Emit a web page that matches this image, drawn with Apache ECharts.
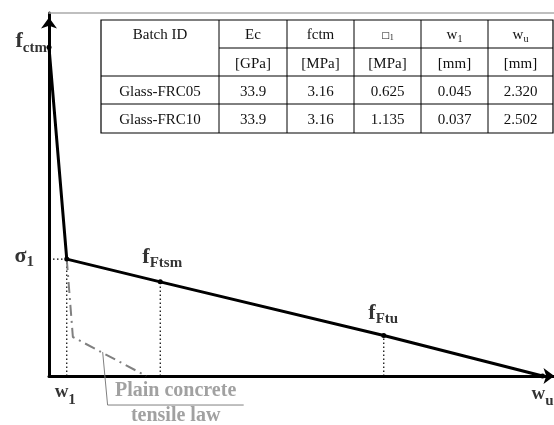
<!DOCTYPE html>
<html>
<head>
<meta charset="utf-8">
<script src="https://cdn.jsdelivr.net/npm/echarts@6/dist/echarts.min.js"></script>
<style>html,body{margin:0;padding:0;background:#fff;}#c{width:554px;height:425px;}</style>
</head>
<body>
<div id="c"></div>
<script>
// ---- schematic values (crack opening w, stress) ----
const fctm = 3.16;          // peak tensile strength on the y axis
const sigma1 = 1.124;       // stress at end of steep branch
const w1 = 0.09;            // crack opening at sigma1
const wFtsm = 0.564;        // crack opening of fFtsm
const fFtsm = 0.905;
const wFtu = 1.697;         // crack opening of fFtu
const fFtu = 0.39;
const wu = 2.502;           // ultimate crack opening
const plainW = [0.09, 0.121, 0.493];
const plainS = [1.124, 0.375, 0];
const leaderW = [0.272, 0.297, 0.987];
const leaderS = [0.23, -0.279, -0.279];
const noteAt = [0.642, -0.267];

// ---- table values ----
const tableHead1 = ['{n|Batch ID}', '{n|Ec}', '{n|fctm}', '{g|\u25A1}{gs|1}', '{n|w}{s|1}', '{n|w}{s|u}'];
const tableHead2 = ['', '[GPa]', '[MPa]', '[MPa]', '[mm]', '[mm]'];
const batchIds = ['Glass-FRC05', 'Glass-FRC10'];
const tEc = ['33.9', '33.9'];
const tFctm = ['3.16', '3.16'];
const tSigma1 = ['0.625', '1.135'];
const tW1 = ['0.045', '0.037'];
const tWu = ['2.320', '2.502'];

const serif = 'Liberation Serif';
const chart = echarts.init(document.getElementById('c'), null, {renderer: 'canvas'});

const mainRich = {
  m: {fontSize: 22, fontWeight: 'bold', fontFamily: serif, color: '#000', verticalAlign: 'top', lineHeight: 26},
  w: {fontSize: 19, fontWeight: 'bold', fontFamily: serif, color: '#000', verticalAlign: 'top', lineHeight: 26},
  s: {fontSize: 15, fontWeight: 'bold', fontFamily: serif, color: '#000', verticalAlign: 'top', lineHeight: 26, padding: [10, 0, 0, 0]}
};

function lbl(pos, dist, off) {
  return {show: true, position: pos, distance: dist, offset: off, rich: mainRich};
}

// table graphic
const colX = [101, 219, 287, 354, 421, 488, 553];
const rowY = [20, 48, 76, 104, 133];
const tg = [];
tg.push({type: 'rect', shape: {x: colX[0], y: rowY[0], width: colX[6] - colX[0], height: rowY[4] - rowY[0]},
  style: {fill: '#fff', stroke: '#000', lineWidth: 1.2}, z: 10});
tg.push({type: 'line', shape: {x1: colX[1], y1: rowY[1], x2: colX[6], y2: rowY[1]}, style: {stroke: '#000', lineWidth: 1}, z: 11});
[2, 3].forEach(r => tg.push({type: 'line', shape: {x1: colX[0], y1: rowY[r], x2: colX[6], y2: rowY[r]}, style: {stroke: '#000', lineWidth: 1}, z: 11}));
for (let c = 1; c < 6; c++) tg.push({type: 'line', shape: {x1: colX[c], y1: rowY[0], x2: colX[c], y2: rowY[4]}, style: {stroke: '#000', lineWidth: 1}, z: 11});
const tRich = {
  n: {fontSize: 15, fontFamily: serif, color: '#111', verticalAlign: 'top', lineHeight: 16},
  s: {fontSize: 10, fontFamily: serif, color: '#111', verticalAlign: 'top', lineHeight: 16, padding: [6, 0, 0, 0]},
  g: {fontSize: 9, fontFamily: 'DejaVu Sans', color: '#aaa', verticalAlign: 'top', lineHeight: 16, padding: [3, 0, 0, 0]},
  gs: {fontSize: 8, fontFamily: serif, color: '#999', verticalAlign: 'top', lineHeight: 16, padding: [6, 0, 0, 0]}
};
const rows = [
  tableHead1, tableHead2,
  [batchIds[0], tEc[0], tFctm[0], tSigma1[0], tW1[0], tWu[0]],
  [batchIds[1], tEc[1], tFctm[1], tSigma1[1], tW1[1], tWu[1]]
];
rows.forEach((row, r) => {
  row.forEach((txt, c) => {
    if (!txt) return;
    tg.push({type: 'text', x: (colX[c] + colX[c + 1]) / 2, y: (rowY[r] + rowY[r + 1]) / 2 + 2, z: 12,
      style: {text: txt, fontSize: 15, fontFamily: serif, fill: '#111', align: 'center', verticalAlign: 'middle',
        textAlign: 'center', textVerticalAlign: 'middle', rich: tRich}});
  });
});

const option = {
  animation: false,
  backgroundColor: '#fff',
  grid: {left: 49, right: -3.5, top: 13, bottom: 49},
  xAxis: [{
    type: 'value', min: 0, max: 2.56,
    axisLine: {show: true, onZero: false, symbol: ['none', 'arrow'], symbolSize: [12, 11], symbolOffset: [0, 0.5], lineStyle: {color: '#000', width: 3}},
    axisTick: {show: false}, axisLabel: {show: false}, splitLine: {show: false}
  }, {
    type: 'value', min: 0, max: 2.56, position: 'top',
    axisLine: {show: true, onZero: false, lineStyle: {color: '#aaa', width: 1.5}},
    axisTick: {show: false}, axisLabel: {show: false}, splitLine: {show: false}
  }],
  yAxis: {
    type: 'value', min: 0, max: 3.49,
    axisLine: {show: true, onZero: false, symbol: ['none', 'arrow'], symbolSize: [12, 11], symbolOffset: [0, -4.5], lineStyle: {color: '#000', width: 3}},
    axisTick: {show: false}, axisLabel: {show: false}, splitLine: {show: false}
  },
  series: [
    {type: 'line', name: 'guide-h', data: [[0, sigma1], [w1, sigma1]], symbol: 'none', lineStyle: {color: '#000', width: 1.2, type: [1.5, 2.5]}, z: 3},
    {type: 'line', name: 'guide-w1', data: [[w1, 0], [w1, sigma1]], symbol: 'none', lineStyle: {color: '#000', width: 1.2, type: [1.5, 2.5]}, z: 3},
    {type: 'line', name: 'guide-ftsm', data: [[wFtsm, 0], [wFtsm, fFtsm]], symbol: 'none', lineStyle: {color: '#000', width: 1.2, type: [1.5, 2.5]}, z: 3},
    {type: 'line', name: 'guide-ftu', data: [[wFtu, 0], [wFtu, fFtu]], symbol: 'none', lineStyle: {color: '#000', width: 1.2, type: [1.5, 2.5]}, z: 3},
    {type: 'line', name: 'plain', data: plainW.map((w, i) => [w, plainS[i]]), symbol: 'none',
      lineStyle: {color: '#808080', width: 2, type: [11, 5, 2, 5]}, z: 4},
    {type: 'line', name: 'leader', data: leaderW.map((w, i) => [w, leaderS[i]]), symbol: 'none', clip: false,
      lineStyle: {color: '#808080', width: 1}, z: 4},
    {type: 'line', name: 'frc', data: [[0, fctm], [w1, sigma1], [wFtsm, fFtsm], [wFtu, fFtu], [wu, 0]],
      symbol: 'circle', symbolSize: 5, itemStyle: {color: '#000'}, lineStyle: {color: '#000', width: 3}, z: 6},
    {type: 'scatter', name: 'labels', symbolSize: 0, clip: false, z: 8,
      data: [
        {value: [0, fctm], label: lbl('left', 1, [-1, -3.7])},
        {value: [0, sigma1], label: lbl('left', 15, [0, -1])},
        {value: [w1, 0], label: lbl('bottom', 7, [-1.5, 0])},
        {value: [wu, 0], label: lbl('bottom', 8.1, [0, 0])},
        {value: [wFtsm, fFtsm], label: lbl('top', 0, [2, -10])},
        {value: [wFtu, fFtu], label: lbl('top', 0, [-0.5, -7.5])}
      ].map((d, i) => {
        const texts = ['{m|f}{s|ctm}', '{m|\u03C3}{s|1}', '{w|w}{s|1}', '{w|w}{s|u}', '{m|f}{s|Ftsm}', '{m|f}{s|Ftu}'];
        d.label.formatter = texts[i];
        return d;
      })
    },
    {type: 'scatter', name: 'note', symbolSize: 0, clip: false, z: 8,
      data: [{value: noteAt, label: {show: true, position: 'inside', formatter: '{a|Plain concrete}\n{a|tensile law}',
        rich: {a: {fontSize: 20, fontWeight: 'bold', fontFamily: serif, color: '#8a8a8a', lineHeight: 25, align: 'center'}}}}]
    }
  ],
  graphic: tg
};
chart.setOption(option);
</script>
</body>
</html>
